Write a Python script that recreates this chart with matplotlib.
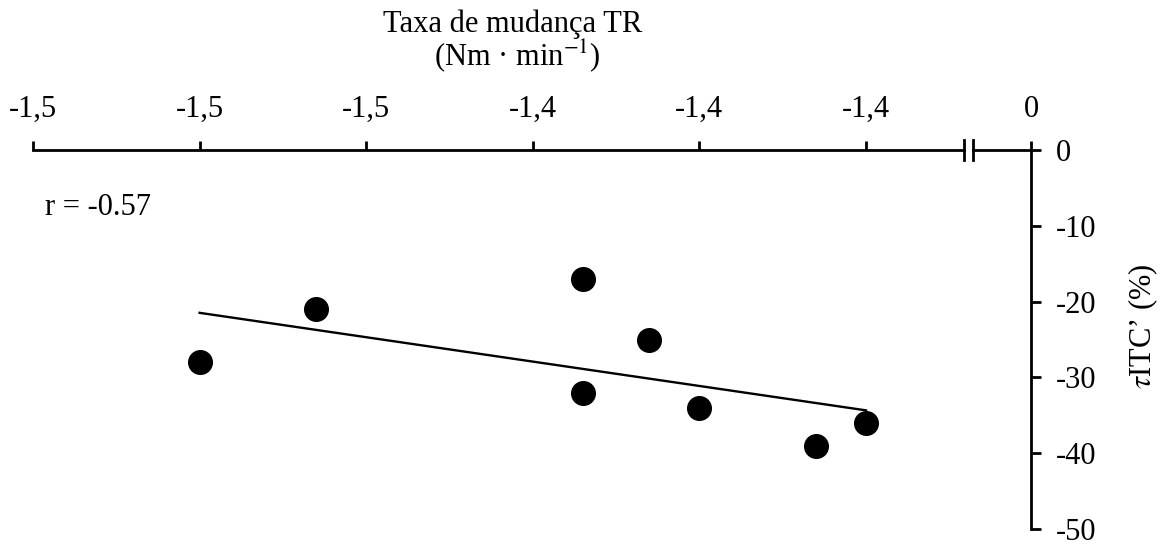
import matplotlib.pyplot as plt
import numpy as np

# rate of change of TR (Nm/min) vs tauITC' (%)
taxa_tr = [-1.465, -1.458, -1.442, -1.442, -1.438, -1.435, -1.428, -1.425]
titc = [-28, -21, -17, -32, -25, -34, -39, -36]

x_ticks = [-1.475, -1.465, -1.455, -1.445, -1.435, -1.425]
x_tick_labels = ['-1,5', '-1,5', '-1,5', '-1,4', '-1,4', '-1,4']
y_ticks = [0, -10, -20, -30, -40, -50]
r_value = -0.57

plt.rcParams['font.family'] = ['Liberation Serif', 'DejaVu Serif']
plt.rcParams['mathtext.fontset'] = 'stix'

W, H = 1166, 544
fig = plt.figure(figsize=(W / 100, H / 100), dpi=100)
fig.patch.set_facecolor('white')

# main part of the axis and the short piece after the break
ax = fig.add_axes([33 / W, 15 / H, 931 / W, 379 / H])
ax0 = fig.add_axes([973 / W, 15 / H, 58 / W, 379 / H])

lw = 2.0
fs = 22

# points and regression line
ax.plot(taxa_tr, titc, 'o', color='black', ms=17, ls='none')
coef = np.polyfit(taxa_tr, titc, 1)
xs = np.array([min(taxa_tr), max(taxa_tr)])
ax.plot(xs, np.polyval(coef, xs), color='black', lw=1.7)

ax.set_xlim(-1.475, -1.475 + 931 / 16660)
ax.set_ylim(-50, 0)
for side in ['left', 'right', 'bottom']:
    ax.spines[side].set_visible(False)
ax.spines['top'].set_linewidth(lw)
ax.xaxis.tick_top()
ax.set_xticks(x_ticks, x_tick_labels)
ax.set_yticks([])
ax.tick_params(axis='x', direction='out', length=6.5, width=lw, pad=12, labelsize=fs)
ax.patch.set_alpha(0)

ax0.set_xlim(-0.0035, 0)
ax0.set_ylim(-50, 0)
ax0.spines['left'].set_visible(False)
ax0.spines['bottom'].set_visible(False)
ax0.spines['top'].set_linewidth(lw)
ax0.spines['right'].set_linewidth(lw)
ax0.xaxis.tick_top()
ax0.set_xticks([0], ['0'])
ax0.yaxis.tick_right()
ax0.set_yticks(y_ticks, [str(v) for v in y_ticks])
ax0.tick_params(axis='x', direction='out', length=6.5, width=lw, pad=12, labelsize=fs)
ax0.tick_params(axis='y', direction='out', length=7, width=lw, pad=11, labelsize=fs)
ax0.patch.set_alpha(0)

# break marks
d = 10 / 379
ax.plot([1, 1], [1 - d, 1 + d], transform=ax.transAxes, color='black', lw=lw, clip_on=False)
ax0.plot([0, 0], [1 - d, 1 + d], transform=ax0.transAxes, color='black', lw=lw, clip_on=False)

# labels
fig.text(513 / W, 1 - 32 / H, 'Taxa de mudança TR', ha='center', va='baseline', fontsize=fs)
fig.text(517 / W, 1 - 65 / H, '(Nm · min$^{-1}$)', ha='center', va='baseline', fontsize=fs)
fig.text(1143 / W, 1 - 326 / H, "$\\tau$ITC’ (%)", rotation=90, ha='center', va='center', fontsize=fs)
fig.text(45 / W, 1 - 215 / H, f'r = {r_value}', ha='left', va='baseline', fontsize=fs)

fig.savefig('out.png', dpi=100, facecolor='white')
